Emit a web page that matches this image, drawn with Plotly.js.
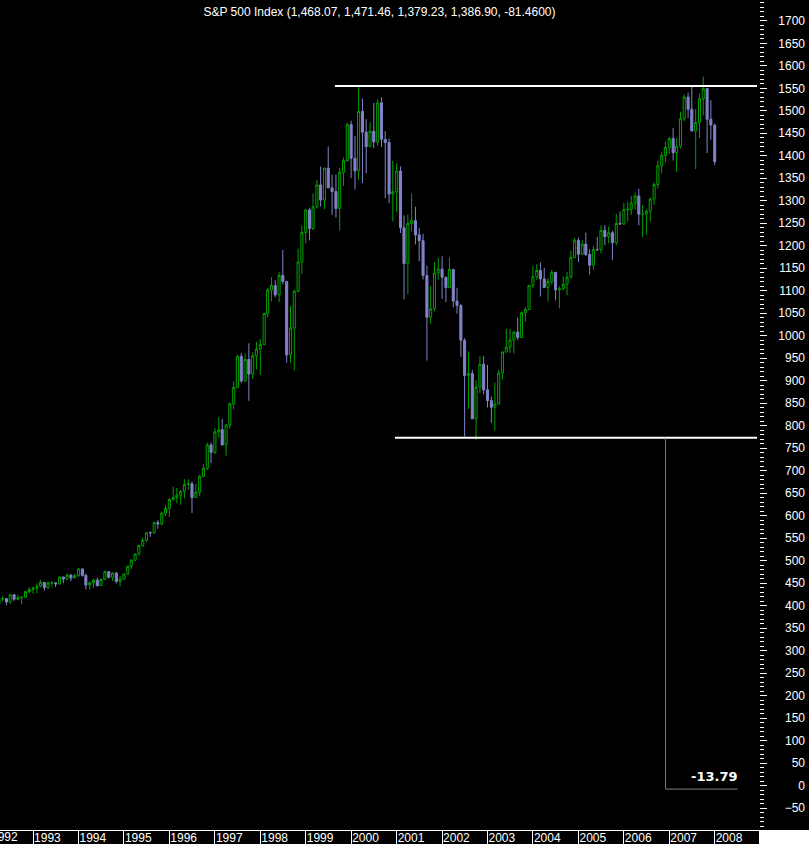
<!DOCTYPE html>
<html><head><meta charset="utf-8">
<script src="https://cdn.plot.ly/plotly-3.0.1.min.js"></script>
<style>html,body{margin:0;padding:0;background:#000;}#chart{width:809px;height:844px;}</style>
</head><body><div id="chart"></div>
<script>
// Monthly S&P 500 candles, Jan 1992 .. Jan 2008
const startYear = 1992;
const opens = [
417.03,408.79,412.70,403.69,414.95,415.35,408.14,424.21,414.03,417.80,418.68,431.35,
435.71,438.78,443.38,451.67,440.19,450.19,450.53,448.13,463.56,458.93,467.83,461.79,
466.45,481.61,467.14,445.77,450.91,456.50,444.27,458.26,475.49,462.69,472.35,453.69,
459.27,470.42,487.39,500.71,514.71,533.40,544.75,562.06,561.88,584.41,581.50,605.37,
615.93,636.02,640.43,645.50,654.17,669.12,670.63,639.95,651.99,687.31,705.27,757.02,
740.74,786.16,790.82,757.12,801.34,848.28,885.14,954.29,899.47,947.28,914.62,955.40,
970.43,980.28,1049.34,1101.75,1111.75,1090.82,1133.84,1120.67,957.28,1017.01,1098.67,1163.63,
1229.23,1279.64,1238.33,1286.37,1335.18,1301.84,1372.71,1328.72,1320.41,1282.71,1362.93,1388.91,
1469.25,1394.46,1366.42,1498.58,1452.43,1420.60,1454.60,1430.83,1517.68,1436.51,1429.40,1314.95,
1320.28,1366.01,1239.94,1160.33,1249.46,1255.82,1224.42,1211.23,1133.58,1040.94,1059.78,1139.45,
1148.08,1130.20,1106.73,1147.39,1076.92,1067.14,989.82,911.62,916.07,815.28,885.76,936.31,
879.82,855.70,841.15,848.18,916.92,963.59,974.50,990.31,1008.01,995.97,1050.71,1058.20,
1111.92,1131.13,1144.94,1126.21,1107.30,1120.68,1140.84,1101.72,1104.24,1114.58,1130.20,1173.82,
1211.92,1181.27,1203.60,1180.59,1156.85,1191.50,1191.33,1234.18,1220.33,1228.81,1207.01,1249.48,
1248.29,1280.08,1280.66,1294.83,1310.61,1270.09,1270.20,1276.66,1303.82,1335.85,1377.94,1400.63,
1418.30,1438.24,1406.82,1420.86,1482.37,1530.62,1503.35,1455.27,1473.99,1526.75,1549.38,1481.14,
1468.07];
const highs = [
420.77,413.84,413.74,416.28,420.89,417.30,425.09,425.14,423.45,419.31,431.40,441.28,
442.65,449.56,456.84,452.43,453.52,453.85,451.15,464.01,463.56,470.34,469.58,471.29,
482.85,482.23,471.07,453.20,458.45,462.12,459.30,477.59,476.25,474.21,474.57,465.23,
471.36,489.19,503.21,515.32,535.43,551.07,563.84,565.24,586.75,590.66,608.76,622.88,
638.46,664.23,661.45,656.66,681.10,680.32,675.88,670.68,690.88,714.10,762.12,761.75,
794.67,818.91,814.90,804.13,851.87,898.70,957.73,961.32,960.46,983.12,963.23,986.25,
992.65,1050.02,1105.65,1130.52,1123.36,1141.41,1190.58,1121.01,1066.11,1102.57,1193.19,1244.93,
1280.37,1283.83,1316.18,1346.09,1375.98,1372.93,1420.33,1357.74,1358.19,1373.17,1396.12,1473.41,
1478.00,1444.55,1552.87,1527.19,1481.51,1474.64,1517.32,1525.21,1530.09,1454.82,1438.46,1389.06,
1383.37,1376.38,1267.42,1269.30,1315.93,1286.62,1239.78,1226.27,1155.40,1110.61,1163.38,1173.62,
1176.55,1130.20,1173.94,1147.84,1106.59,1070.74,994.46,965.00,924.02,900.96,954.28,954.28,
935.05,864.64,895.34,924.24,965.38,1015.33,1015.41,1011.01,1040.29,1053.79,1063.65,1112.56,
1155.38,1158.98,1163.23,1150.57,1127.74,1146.18,1140.84,1109.68,1131.54,1142.05,1188.46,1217.33,
1217.80,1212.25,1229.11,1191.88,1199.56,1219.59,1245.15,1245.86,1243.13,1233.34,1270.64,1275.80,
1294.90,1297.57,1310.88,1318.16,1326.70,1290.68,1280.42,1307.11,1340.28,1389.45,1407.89,1431.81,
1441.61,1461.57,1438.89,1498.02,1535.56,1540.56,1555.90,1503.89,1538.74,1576.09,1545.79,1523.57,
1471.46];
const lows = [
404.00,407.49,401.00,394.50,409.80,400.96,404.07,410.40,411.91,402.66,416.91,427.51,
425.73,427.54,440.14,433.54,436.64,441.94,441.11,446.75,450.17,457.37,454.36,460.29,
464.24,464.26,436.16,435.86,439.07,442.38,444.07,456.94,460.36,454.96,449.13,443.27,
457.20,469.02,481.45,500.08,511.70,530.54,542.31,552.89,559.79,571.04,578.13,598.93,
597.29,633.71,627.63,624.10,638.26,657.08,605.88,639.49,643.53,685.12,701.30,716.69,
737.01,773.43,756.13,733.54,793.21,836.35,883.85,894.54,897.62,855.27,903.68,924.92,
912.83,979.70,1040.79,1076.70,1085.62,1074.67,1114.30,939.98,939.98,923.32,1096.76,1136.89,
1205.46,1211.89,1234.24,1282.63,1287.00,1281.41,1328.46,1268.37,1263.07,1233.66,1332.45,1387.38,
1350.14,1325.07,1346.62,1339.40,1361.09,1420.60,1416.88,1422.00,1419.44,1305.79,1294.90,1254.07,
1274.62,1228.33,1081.19,1091.99,1232.00,1203.03,1165.54,1124.87,944.75,1026.76,1054.31,1124.38,
1081.66,1074.36,1106.73,1063.46,1048.96,952.92,775.68,837.00,815.28,768.63,872.66,869.45,
840.34,806.29,788.90,847.85,902.83,963.59,962.10,960.84,990.36,995.97,1031.20,1058.20,
1105.08,1124.44,1087.16,1107.23,1076.32,1113.32,1078.78,1060.72,1101.29,1090.19,1127.60,1173.76,
1163.75,1180.10,1176.92,1136.15,1146.18,1188.30,1183.55,1201.07,1205.35,1168.20,1201.07,1246.59,
1245.74,1253.61,1268.42,1280.74,1245.34,1219.29,1224.54,1253.59,1290.93,1327.10,1360.98,1385.93,
1403.97,1389.42,1363.98,1416.37,1476.70,1484.18,1454.25,1370.60,1439.29,1489.56,1406.10,1435.65,
1379.23];
const closes = [
408.79,412.70,403.69,414.95,415.35,408.14,424.21,414.03,417.80,418.68,431.35,435.71,
438.78,443.38,451.67,440.19,450.19,450.53,448.13,463.56,458.93,467.83,461.79,466.45,
481.61,467.14,445.77,450.91,456.50,444.27,458.26,475.49,462.69,472.35,453.69,459.27,
470.42,487.39,500.71,514.71,533.40,544.75,562.06,561.88,584.41,581.50,605.37,615.93,
636.02,640.43,645.50,654.17,669.12,670.63,639.95,651.99,687.31,705.27,757.02,740.74,
786.16,790.82,757.12,801.34,848.28,885.14,954.29,899.47,947.28,914.62,955.40,970.43,
980.28,1049.34,1101.75,1111.75,1090.82,1133.84,1120.67,957.28,1017.01,1098.67,1163.63,1229.23,
1279.64,1238.33,1286.37,1335.18,1301.84,1372.71,1328.72,1320.41,1282.71,1362.93,1388.91,1469.25,
1394.46,1366.42,1498.58,1452.43,1420.60,1454.60,1430.83,1517.68,1436.51,1429.40,1314.95,1320.28,
1366.01,1239.94,1160.33,1249.46,1255.82,1224.42,1211.23,1133.58,1040.94,1059.78,1139.45,1148.08,
1130.20,1106.73,1147.39,1076.92,1067.14,989.82,911.62,916.07,815.28,885.76,936.31,879.82,
855.70,841.15,848.18,916.92,963.59,974.50,990.31,1008.01,995.97,1050.71,1058.20,1111.92,
1131.13,1144.94,1126.21,1107.30,1120.68,1140.84,1101.72,1104.24,1114.58,1130.20,1173.82,1211.92,
1181.27,1203.60,1180.59,1156.85,1191.50,1191.33,1234.18,1220.33,1228.81,1207.01,1249.48,1248.29,
1280.08,1280.66,1294.83,1310.61,1270.09,1270.20,1276.66,1303.82,1335.85,1377.94,1400.63,1418.30,
1438.24,1406.82,1420.86,1482.37,1530.62,1503.35,1455.27,1473.99,1526.75,1549.38,1481.14,1468.36,
1386.90];

// Drawn level lines (resistance / support) and the measurement
const levelValues = [1555, 773];
const levelStarts = ['1999-08-24', '2000-12-18'];
const levelEnds = ['2008-12-06', '2008-12-06'];
const measureDates = ['2006-12-02', '2008-07-03'];
const measureValues = [773, -8];
const measureLabel = '-13.79';
const measureLabelDate = '2008-07-20';
const measureLabelValue = 21;
const titleText = 'S&P 500 Index (1,468.07, 1,471.46, 1,379.23, 1,386.90, -81.4600)';
const firstYearLabel = '1992';
const firstYearDate = '1992-01-01';
const xRange = ['1992-04-10', '2008-12-22'];

const dates = [];
for (let i = 0; i < closes.length; i++) {
  const y = startYear + Math.floor(i / 12);
  const m = (i % 12) + 1;
  dates.push(y + '-' + String(m).padStart(2, '0') + '-01');
}

const GREEN = '#00a000', PURPLE = '#8282c8';
const FONT = 'Liberation Sans, Arial, sans-serif';
const yRange = [-98.9, 1746.3];
const xDomain = [0, 759/809];

// position of the (partly hidden) first year label, via the x scale
const t0 = Date.parse(xRange[0]), t1 = Date.parse(xRange[1]);
const firstYearPaper = xDomain[0] + (Date.parse(firstYearDate) - t0) / (t1 - t0) * (xDomain[1] - xDomain[0]);

const traces = [
  {type: 'candlestick', x: dates, open: opens, high: highs, low: lows, close: closes,
   increasing: {line: {color: GREEN, width: 1}, fillcolor: '#000000'},
   decreasing: {line: {color: PURPLE, width: 1}, fillcolor: PURPLE},
   whiskerwidth: 0, hoverinfo: 'skip', xaxis: 'x', yaxis: 'y'},
  {type: 'scatter', x: [], y: [], xaxis: 'x', yaxis: 'y2', hoverinfo: 'skip'}
];

const shapes = [];
for (let i = 0; i < levelValues.length; i++) {
  shapes.push({type: 'line', xref: 'x', yref: 'y', x0: levelStarts[i], x1: levelEnds[i],
    y0: levelValues[i], y1: levelValues[i], line: {color: '#ffffff', width: 2}});
}
shapes.push({type: 'line', xref: 'x', yref: 'y', x0: measureDates[0], x1: measureDates[0],
  y0: measureValues[0], y1: measureValues[1], line: {color: '#808080', width: 1}});
shapes.push({type: 'line', xref: 'x', yref: 'y', x0: measureDates[0], x1: measureDates[1],
  y0: measureValues[1], y1: measureValues[1], line: {color: '#808080', width: 1}});
// white corner under the price scale
shapes.push({type: 'rect', xref: 'paper', yref: 'paper', x0: xDomain[1], x1: 1, y0: -14/830, y1: 0,
  fillcolor: '#ffffff', line: {width: 0}, layer: 'above'});

const layout = {
  width: 809, height: 844,
  paper_bgcolor: '#000000', plot_bgcolor: '#000000',
  margin: {l: 0, r: 0, t: 0, b: 14},
  showlegend: false,
  boxgap: 0.15,
  title: {text: titleText, font: {family: FONT, size: 12, color: '#ffffff'},
          x: 379.5/809, xref: 'paper', xanchor: 'center', y: 1 - 12/844, yref: 'container', yanchor: 'middle'},
  xaxis: {type: 'date', domain: xDomain, range: xRange,
          showgrid: false, zeroline: false, showline: true, linecolor: '#ffffff', linewidth: 1,
          ticks: 'outside', ticklen: 14, tickwidth: 1, tickcolor: '#ffffff',
          dtick: 'M12', tick0: '1992-01-01', tickformat: '%Y',
          ticklabelposition: 'outside right', ticklabelstandoff: -3,
          tickfont: {family: FONT, size: 12, color: '#ffffff'},
          rangeslider: {visible: false}, fixedrange: true},
  yaxis: {range: yRange, side: 'right', anchor: 'x', showgrid: false, zeroline: false, showline: false,
          ticks: 'outside', ticklen: 7, tickwidth: 1, tickcolor: '#ffffff', dtick: 50, tick0: 0,
          showticklabels: false,
          minor: {dtick: 10, ticks: 'outside', ticklen: 4, tickwidth: 1, tickcolor: '#ffffff', showgrid: false},
          fixedrange: true},
  yaxis2: {range: yRange, overlaying: 'y', anchor: 'free', position: 1, side: 'left',
           showgrid: false, zeroline: false, showline: false, ticks: '', dtick: 50, tick0: 0,
           tickfont: {family: FONT, size: 12, color: '#ffffff'}, ticklabelstandoff: 4,
           fixedrange: true},
  shapes: shapes,
  annotations: [
    {x: measureLabelDate, y: measureLabelValue, xref: 'x', yref: 'y', text: measureLabel,
     showarrow: false, xanchor: 'right', yanchor: 'middle',
     font: {family: 'DejaVu Sans, sans-serif', size: 13, color: '#ffffff', weight: 'bold'}},
    {x: firstYearPaper, y: -7/830, xref: 'paper', yref: 'paper', text: firstYearLabel,
     showarrow: false, xanchor: 'left', yanchor: 'middle', xshift: 1,
     font: {family: FONT, size: 12, color: '#ffffff'}}
  ]
};

Plotly.newPlot('chart', traces, layout, {staticPlot: true, displayModeBar: false});
</script></body></html>
